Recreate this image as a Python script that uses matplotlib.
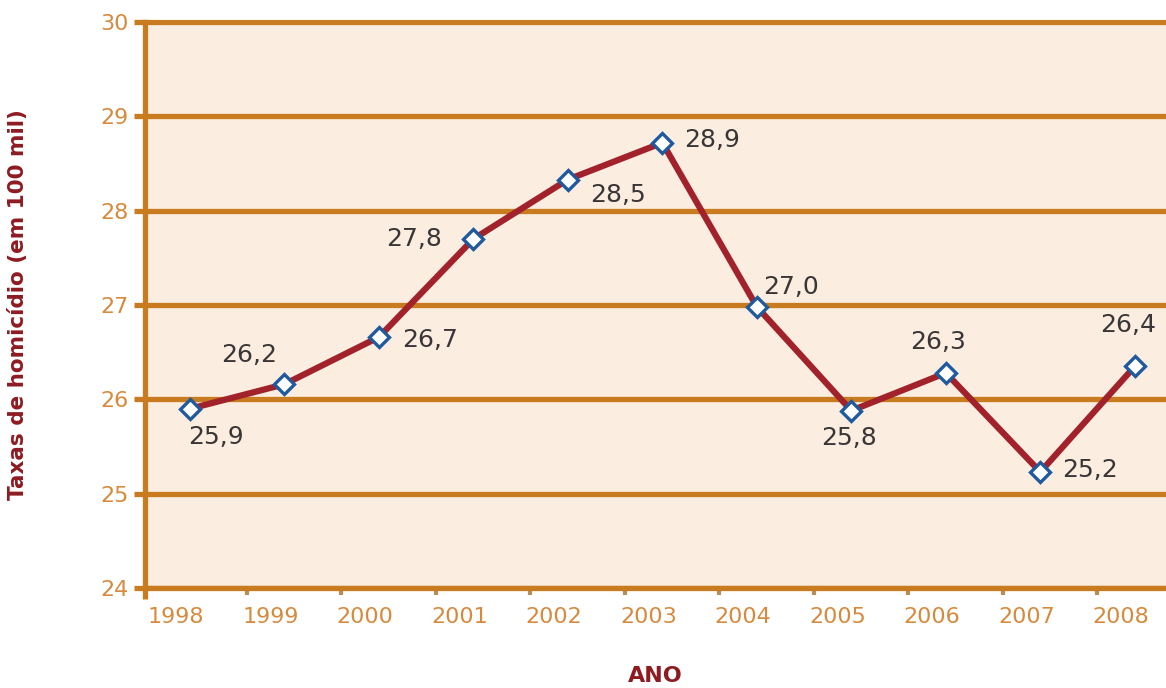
import matplotlib
matplotlib.use("Agg")
import matplotlib.pyplot as plt
import matplotlib.transforms as mtransforms

years = ["1998", "1999", "2000", "2001", "2002", "2003", "2004", "2005", "2006", "2007", "2008"]
rates = [25.90, 26.16, 26.66, 27.70, 28.33, 28.72, 26.98, 25.88, 26.28, 25.23, 26.35]
rate_labels = ["25,9", "26,2", "26,7", "27,8", "28,5", "28,9", "27,0", "25,8", "26,3", "25,2", "26,4"]
yticks = [24, 25, 26, 27, 28, 29, 30]

# label placement offsets (pixels) relative to each marker
label_offsets = [(26, -28), (-35, 29), (51, -3), (-59, 0), (50, -15), (50, 3),
                 (34, 20), (-2, -27), (-8, 31), (50, 2), (-7, 41)]

orange = "#c97b1f"
tick_orange = "#d68a3e"
red = "#a1222b"
dark_red = "#8e1b22"
bg = "#fbede0"

fig = plt.figure(figsize=(11.66, 6.88), dpi=100)
ax = fig.add_axes([145 / 1166, 1 - 588 / 688, 1 - 145 / 1166, (588 - 22) / 688])
ax.set_facecolor(bg)

x = list(range(len(years)))
ax.set_xlim(-0.476, 10.33)
ax.set_ylim(24, 30)

ax.set_yticks(yticks)
ax.set_yticklabels([str(v) for v in yticks])
ax.grid(axis="y", color=orange, lw=3.8, zorder=1)
ax.set_axisbelow(True)

ax.spines["right"].set_visible(False)
for s in ["left", "bottom", "top"]:
    ax.spines[s].set_color(orange)
    ax.spines[s].set_linewidth(3.8)
ax.spines["top"].set_linewidth(3.0)

ax.tick_params(axis="y", length=8, width=3.8, color=orange, pad=4,
               labelcolor=tick_orange, labelsize=16)
ax.set_xticks(x)
ax.set_xticklabels(years)
ax.tick_params(axis="x", which="major", length=0, pad=14, labelcolor=tick_orange, labelsize=16)
ax.set_xticks([i - 0.40 for i in x[1:]], minor=True)
ax.tick_params(axis="x", which="minor", length=5, width=3, color="#b98d5a", direction="out")
offset = mtransforms.ScaledTranslation(-14 / 100, 0, fig.dpi_scale_trans)
for lab in ax.get_xticklabels():
    lab.set_transform(lab.get_transform() + offset)

# extend left spine a bit below the axis
ax.plot([0, 0], [0, -0.02], transform=ax.transAxes, color=orange, lw=3.8,
        clip_on=False, solid_capstyle="butt")

ax.plot(x, rates, color=red, lw=4.5, zorder=3, solid_joinstyle="round")
ax.plot(x, rates, linestyle="none", marker="D", markersize=10.5,
        markerfacecolor="white", markeredgecolor="#1f5a9e", markeredgewidth=2.4, zorder=4)

for xi, yi, lab, off in zip(x, rates, rate_labels, label_offsets):
    ax.annotate(lab, (xi, yi), xytext=off, textcoords="offset pixels",
                ha="center", va="center", fontsize=18, color="#3a3536", zorder=5)

ax.set_xlabel("ANO", color=dark_red, fontsize=16, fontweight="bold", labelpad=28)
ax.set_ylabel("Taxas de homicídio (em 100 mil)", color=dark_red, fontsize=15.5,
              fontweight="bold", labelpad=52)

fig.savefig("out.png", dpi=100)
